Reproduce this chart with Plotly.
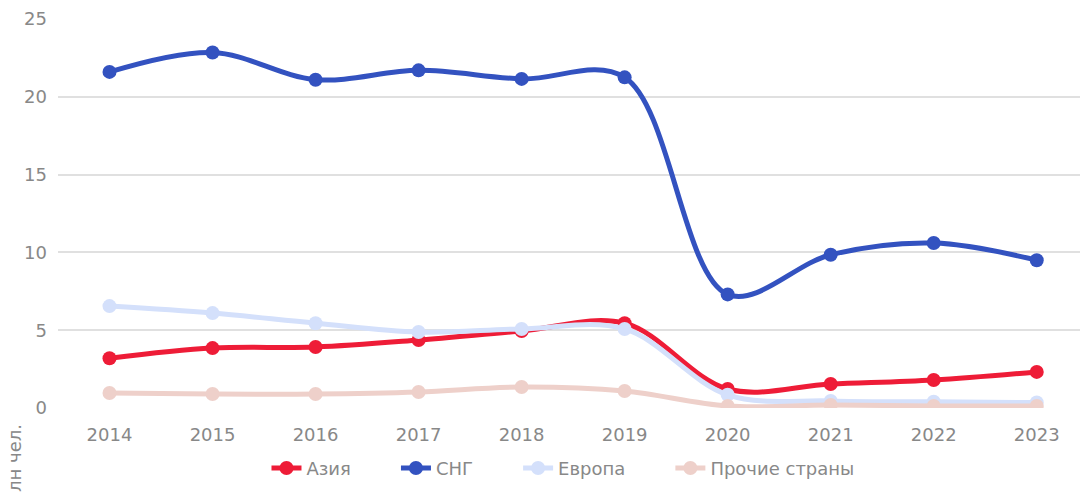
import plotly.graph_objects as go

years = ["2014", "2015", "2016", "2017", "2018", "2019", "2020", "2021", "2022", "2023"]
asia = [3.2, 3.85, 3.92, 4.37, 4.95, 5.45, 1.22, 1.54, 1.8, 2.32]
sng = [21.6, 22.85, 21.1, 21.7, 21.15, 21.25, 7.3, 9.85, 10.6, 9.5]
europe = [6.55, 6.1, 5.45, 4.88, 5.08, 5.08, 0.85, 0.45, 0.4, 0.35]
other = [0.96, 0.9, 0.9, 1.03, 1.35, 1.09, 0.13, 0.19, 0.13, 0.13]

names = ["Азия", "СНГ", "Европа", "Прочие страны"]
colors = ["#EE1C37", "#3352C0", "#D4E0FB", "#EED0CA"]
series = [asia, sng, europe, other]

pad = "\u00a0" * 7
fig = go.Figure()
for n, c, v in zip(names, colors, series):
    fig.add_trace(go.Scatter(
        x=years, y=v, name=n + pad, mode="lines+markers",
        line=dict(color=c, width=5, shape="spline", smoothing=1),
        marker=dict(color=c, size=14),
    ))

font = "DejaVu Sans"
grey = "#888888"
fig.update_layout(
    width=1081, height=492,
    margin=dict(l=58, r=1, t=19, b=84),
    paper_bgcolor="white", plot_bgcolor="white",
    font=dict(family=font, size=18, color=grey),
    showlegend=True,
    legend=dict(orientation="h", x=0.204, xanchor="left", y=-0.155, yanchor="middle",
                font=dict(family=font, size=18, color=grey), itemwidth=30,
                traceorder="normal"),
    xaxis=dict(type="category", range=[-0.5, 9.42], showgrid=False, showline=False,
               ticks="", ticklabelstandoff=14,
               tickfont=dict(family=font, size=18, color=grey)),
    yaxis=dict(range=[0, 25], tickvals=[0, 5, 10, 15, 20, 25], showgrid=True,
               gridcolor="#E0E0E0", gridwidth=2, zeroline=False, showline=False,
               ticks="", ticklabelstandoff=10,
               tickfont=dict(family=font, size=18, color=grey)),
    annotations=[dict(text="млн чел.", textangle=-90, xref="paper", yref="paper",
                      x=-0.043, y=-0.145, xanchor="center", yanchor="middle",
                      showarrow=False, font=dict(family=font, size=18, color=grey))],
)
fig.write_html("out.html", config={"displayModeBar": False},
               post_script="document.body.style.margin='0';document.body.style.padding='0';")
